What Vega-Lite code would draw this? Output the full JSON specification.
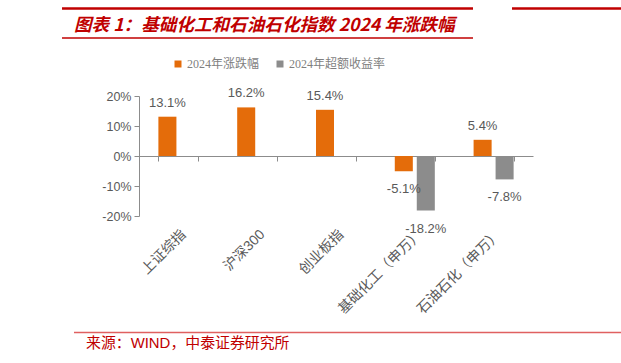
{
  "$schema": "https://vega.github.io/schema/vega-lite/v6.json",
  "autosize": {"type": "none"},
  "width": 394,
  "height": 120,
  "padding": {"left": 139, "top": 96, "right": 88, "bottom": 147},
  "background": "white",
  "config": {
    "view": {"stroke": null},
    "locale": {"number": {"decimal": ".", "thousands": ",", "grouping": [3], "currency": ["$", ""], "minus": "-"}}
  },
  "resolve": {"scale": {"x": "independent", "y": "independent", "color": "independent"}},
  "layer": [
    {
      "data": {"values": [
        {"index": "上证综指", "series": "2024年涨跌幅", "value": 0.131},
        {"index": "沪深300", "series": "2024年涨跌幅", "value": 0.162},
        {"index": "创业板指", "series": "2024年涨跌幅", "value": 0.154},
        {"index": "基础化工（申万）", "series": "2024年涨跌幅", "value": -0.051},
        {"index": "基础化工（申万）", "series": "2024年超额收益率", "value": -0.182},
        {"index": "石油石化（申万）", "series": "2024年涨跌幅", "value": 0.054},
        {"index": "石油石化（申万）", "series": "2024年超额收益率", "value": -0.078}
      ]},
      "encoding": {
        "x": {
          "field": "index", "type": "nominal",
          "sort": ["上证综指", "沪深300", "创业板指", "基础化工（申万）", "石油石化（申万）"],
          "scale": {"paddingInner": 0.492, "paddingOuter": 0.246},
          "axis": {
            "title": null, "offset": -60, "tickBand": "extent", "tickSize": 5,
            "domainColor": "#8c8c8c", "tickColor": "#8c8c8c", "labelAngle": -45,
            "labelPadding": 66, "labelFont": "Liberation Sans, Noto Sans CJK SC",
            "labelFontSize": 14, "labelColor": "#595959"
          }
        },
        "xOffset": {
          "field": "series", "type": "nominal",
          "scale": {"domain": ["2024年涨跌幅", "2024年超额收益率"], "paddingInner": 0.18}
        },
        "y": {
          "field": "value", "type": "quantitative",
          "scale": {"domain": [-0.2, 0.2], "nice": false},
          "axis": {
            "title": null, "values": [-0.2, -0.1, 0, 0.1, 0.2], "format": ".0%",
            "grid": false, "domainColor": "#8c8c8c", "tickColor": "#8c8c8c", "tickSize": 5,
            "labelPadding": 3, "labelFont": "Liberation Sans", "labelFontSize": 12.5, "labelColor": "#595959"
          }
        }
      },
      "layer": [
        {
          "mark": {"type": "bar"},
          "encoding": {
            "color": {
              "field": "series", "type": "nominal",
              "scale": {"domain": ["2024年涨跌幅", "2024年超额收益率"], "range": ["#E46C0A", "#8C8C8C"]},
              "legend": {
                "title": null, "orient": "none", "legendX": 33, "legendY": -38,
                "direction": "horizontal", "symbolType": "square", "symbolSize": 49,
                "symbolStrokeWidth": 0, "labelFont": "Liberation Serif, Noto Sans CJK SC",
                "labelFontSize": 12, "labelColor": "#7f7f7f", "labelOffset": 3,
                "columnPadding": 14, "padding": 0
              }
            }
          }
        },
        {
          "transform": [{"filter": "datum.value >= 0"}],
          "mark": {"type": "text", "baseline": "alphabetic", "dy": -10, "font": "Liberation Sans", "fontSize": 13, "color": "#595959"},
          "encoding": {"text": {"field": "value", "type": "quantitative", "format": ".1%"}}
        },
        {
          "transform": [{"filter": "datum.value < 0"}],
          "mark": {"type": "text", "baseline": "alphabetic", "dy": 22, "font": "Liberation Sans", "fontSize": 13, "color": "#595959"},
          "encoding": {"text": {"field": "value", "type": "quantitative", "format": ".1%"}}
        }
      ]
    },
    {
      "data": {"values": [{}]},
      "layer": [
        {
          "mark": {"type": "rule", "color": "#C00000", "strokeWidth": 2.5},
          "encoding": {
            "x": {"datum": -0.1954, "type": "quantitative", "scale": {"domain": [0, 1], "nice": false, "zero": false}, "axis": null},
            "x2": {"datum": 0.8477},
            "y": {"datum": 1.729, "type": "quantitative", "scale": {"domain": [0, 1], "nice": false, "zero": false}, "axis": null}
          }
        },
        {
          "mark": {"type": "rule", "color": "#C00000", "strokeWidth": 2.5},
          "encoding": {
            "x": {"datum": 0.9467, "type": "quantitative"},
            "x2": {"datum": 1.3},
            "y": {"datum": 1.729, "type": "quantitative"}
          }
        },
        {
          "mark": {"type": "rule", "color": "#C00000", "strokeWidth": 1.5},
          "encoding": {
            "x": {"datum": -0.1954, "type": "quantitative"},
            "x2": {"datum": 0.8477},
            "y": {"datum": 1.483, "type": "quantitative"}
          }
        },
        {
          "mark": {"type": "text", "text": "图表 1：基础化工和石油石化指数 2024 年涨跌幅", "align": "left", "baseline": "middle", "font": "Noto Sans CJK SC", "fontSize": 17.6, "fontWeight": "bold", "fontStyle": "italic", "color": "#C00000"},
          "encoding": {
            "x": {"datum": -0.165, "type": "quantitative"},
            "y": {"datum": 1.5875, "type": "quantitative"}
          }
        },
        {
          "mark": {"type": "rule", "color": "#E06060", "strokeWidth": 1.5},
          "encoding": {
            "x": {"datum": -0.165, "type": "quantitative"},
            "x2": {"datum": 1.3},
            "y": {"datum": -0.971, "type": "quantitative"}
          }
        },
        {
          "mark": {"type": "text", "text": "来源：WIND，中泰证券研究所", "align": "left", "baseline": "middle", "font": "Liberation Sans, Noto Sans CJK SC", "fontSize": 14.9, "color": "#C00000"},
          "encoding": {
            "x": {"datum": -0.1345, "type": "quantitative"},
            "y": {"datum": -1.0667, "type": "quantitative"}
          }
        }
      ]
    }
  ]
}
